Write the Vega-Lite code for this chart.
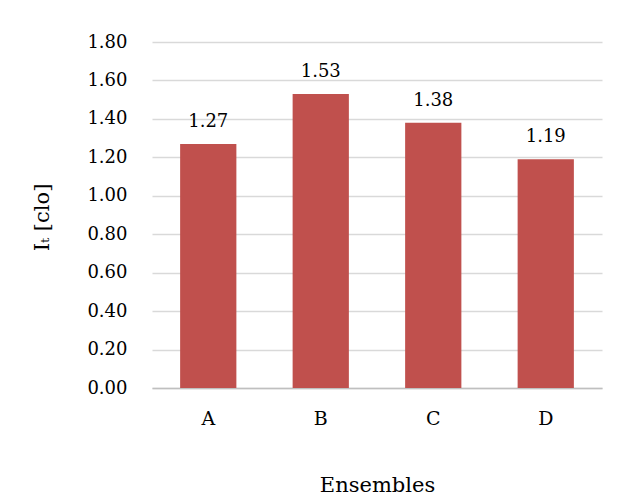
{
  "$schema": "https://vega.github.io/schema/vega-lite/v6.json",
  "width": 450,
  "height": 346,
  "autosize": {"type": "none"},
  "padding": {"left": 152, "top": 42, "right": 25, "bottom": 107},
  "background": "white",
  "config": {
    "view": {"stroke": null},
    "font": "DejaVu Serif"
  },
  "data": {
    "values": [
      {"ensemble": "A", "it": 1.27},
      {"ensemble": "B", "it": 1.53},
      {"ensemble": "C", "it": 1.38},
      {"ensemble": "D", "it": 1.19}
    ]
  },
  "encoding": {
    "x": {
      "field": "ensemble",
      "type": "nominal",
      "sort": null,
      "scale": {"paddingInner": 0.5, "paddingOuter": 0.25},
      "axis": {
        "title": "Ensembles",
        "labelAngle": 0,
        "labelFont": "DejaVu Serif",
        "labelFontSize": 19,
        "labelColor": "#000000",
        "labelPadding": 21,
        "ticks": false,
        "domainColor": "#bfbfbf",
        "domainWidth": 1.5,
        "titleFont": "DejaVu Serif",
        "titleFontSize": 21,
        "titleFontWeight": "normal",
        "titleColor": "#000000",
        "titleBaseline": "middle",
        "titleY": 97
      }
    },
    "y": {
      "field": "it",
      "type": "quantitative",
      "scale": {"domain": [0, 1.8]},
      "axis": {
        "title": "Iₜ [clo]",
        "values": [0, 0.2, 0.4, 0.6, 0.8, 1.0, 1.2, 1.4, 1.6, 1.8],
        "format": ".2f",
        "labelFont": "DejaVu Serif",
        "labelFontSize": 18,
        "labelColor": "#000000",
        "labelPadding": 25,
        "ticks": false,
        "domain": false,
        "gridColor": "#d9d9d9",
        "gridWidth": 1.3,
        "titleFont": "DejaVu Serif",
        "titleFontSize": 21,
        "titleFontWeight": "normal",
        "titleColor": "#000000",
        "titleAngle": -90,
        "titleBaseline": "middle",
        "titleX": -110,
        "titleY": 175
      }
    }
  },
  "layer": [
    {"mark": {"type": "bar", "color": "#c0504d"}},
    {
      "mark": {"type": "text", "dy": -13, "fontSize": 18, "font": "DejaVu Serif", "color": "#000000", "baseline": "bottom"},
      "encoding": {"text": {"field": "it", "type": "quantitative", "format": ".2f"}}
    }
  ]
}
